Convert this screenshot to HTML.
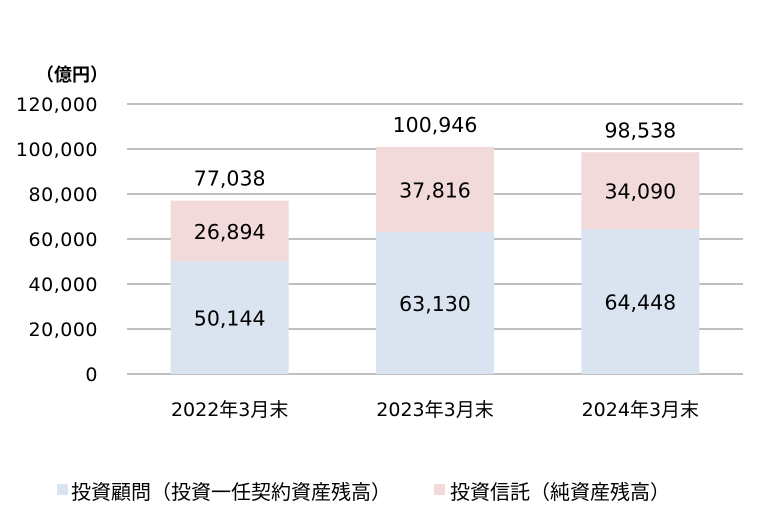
<!DOCTYPE html>
<html><head><meta charset="utf-8"><style>
body{margin:0;background:#fff;}
svg text{font-family:"DejaVu Sans","Noto Sans CJK JP",sans-serif;fill:#000;}
</style></head><body>
<svg id="chart" width="769" height="523" viewBox="0 0 769 523" xmlns="http://www.w3.org/2000/svg">
<text x="36" y="81" font-size="18" font-weight="bold">（億円）</text>
<g id="grid"></g><g id="bars"></g><g id="labels"></g>
<g>
<rect x="57" y="484" width="11" height="11" fill="#dae3f0"/>
<text x="71" y="499" font-size="20">投資顧問（投資一任契約資産残高）</text>
<rect x="434" y="484" width="11" height="11" fill="#f2dada"/>
<text x="450" y="499" font-size="20">投資信託（純資産残高）</text>
</g>
</svg>
<script>
const categories=["2022年3月末","2023年3月末","2024年3月末"];
const advisory=[50144,63130,64448];
const trust=[26894,37816,34090];
const totals=[77038,100946,98538];
const yTicks=[0,20000,40000,60000,80000,100000,120000];
const NS="http://www.w3.org/2000/svg";
const x0=127,x1=743,yBase=374,yTop=104,yMax=120000;
const y=v=>yBase-(v/yMax)*(yBase-yTop);
const band=(x1-x0)/categories.length;
const xc=i=>x0+band*(i+0.5);
const bw=118;
const fmt=v=>v.toLocaleString("en-US");
function mk(tag,attrs,parent){const e=document.createElementNS(NS,tag);for(const k in attrs)e.setAttribute(k,attrs[k]);document.getElementById(parent).appendChild(e);return e;}
yTicks.forEach(t=>{
 const l=mk("line",{x1:x0,x2:x1,y1:y(t),y2:y(t),stroke:"#999",'stroke-width':1.3},"grid");
 
 
 const tx=mk("text",{x:98,y:y(t)+7,'font-size':19,'letter-spacing':0.5,'text-anchor':'end'},"grid");
 tx.textContent=fmt(t);
 
 
});
categories.forEach((c,i)=>{
 const cx=xc(i);
 const b1=mk("rect",{x:cx-bw/2,y:y(advisory[i]),width:bw,height:yBase-y(advisory[i]),fill:"#dae3f0"},"bars");
 
 
 const b2=mk("rect",{x:cx-bw/2,y:y(advisory[i]+trust[i]),width:bw,height:y(advisory[i])-y(advisory[i]+trust[i]),fill:"#f2dada"},"bars");
 
 
 const l1=mk("text",{x:cx,y:(y(advisory[i])+yBase)/2+8,'font-size':20.5,'text-anchor':'middle'},"labels");
 l1.textContent=fmt(advisory[i]);
 
 
 const l2=mk("text",{x:cx,y:(y(advisory[i])+y(advisory[i]+trust[i]))/2+8,'font-size':20.5,'text-anchor':'middle'},"labels");
 l2.textContent=fmt(trust[i]);
 
 
 const l3=mk("text",{x:cx,y:y(totals[i])-15,'font-size':20.5,'text-anchor':'middle'},"labels");
 l3.textContent=fmt(totals[i]);
 
 
 const cl=mk("text",{x:cx,y:416,'font-size':19,'text-anchor':'middle'},"labels");
 cl.textContent=c;
 
 
});
</script>
</body></html>
